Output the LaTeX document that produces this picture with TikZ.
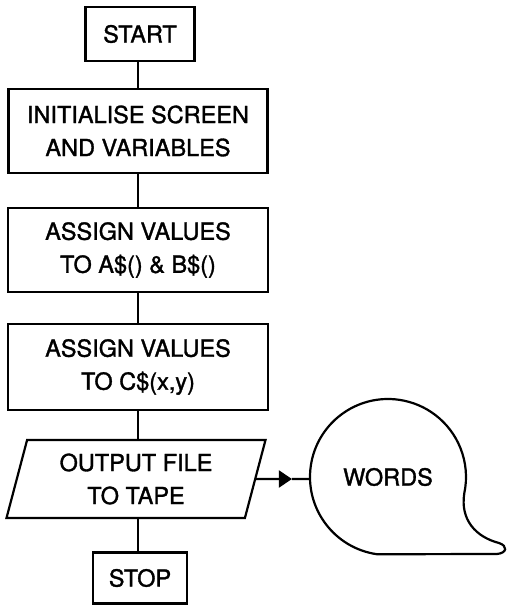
\documentclass[tikz,border=0pt]{standalone}
\usepackage{fontspec}
\setmainfont{TeX Gyre Heros}
\newfontfamily\chartfont[FakeBold=1.4]{TeX Gyre Heros}
\usetikzlibrary{shapes.geometric,arrows.meta,calc}
\begin{document}
\begin{tikzpicture}[x=1pt,y=1pt,
  line width=2.2pt,
  txt/.style={align=center, inner sep=0pt, outer sep=0pt,
    font=\chartfont\fontsize{23.5}{33}\selectfont},
  box/.style={txt, draw, rectangle},
  io/.style={txt, draw, trapezium, trapezium left angle=68,
    trapezium right angle=112, trapezium stretches body=true},
  link/.style={line width=2.2pt},
  tipstyle/.style={-{Triangle[length=13pt,width=17pt]}}
]
\useasboundingbox (0,0) rectangle (507,-606);

% process steps
\node[box, minimum width=109pt, minimum height=54pt] (start) at (140,-34) {START};
\node[box, minimum width=259pt, minimum height=84pt] (init) at (138,-131)
  {INITIALISE SCREEN\\AND VARIABLES};
\node[box, minimum width=260pt, minimum height=84pt] (assignA) at (138,-250)
  {ASSIGN VALUES\\TO A\$() \& B\$()};
\node[box, minimum width=260pt, minimum height=86pt] (assignC) at (138,-367)
  {ASSIGN VALUES\\TO C\$(x,y)};
\node[io, minimum width=259pt, minimum height=78pt] (out) at (136,-479)
  {OUTPUT FILE\\TO TAPE};
\node[box, minimum width=94pt, minimum height=51pt] (stop) at (140,-578) {STOP};

% speech bubble
\node[txt, circle, minimum size=156pt] (bubble) at (388,-477) {WORDS};
\draw (bubble.262) arc[start angle=262, end angle=-12, radius=78pt]
  .. controls (460,-520) and (476,-537) .. (499,-543)
  .. controls (508,-546) and (507,-553) .. (497,-554)
  -- cycle;

% vertical flow
\draw[link] (start.south -| init.north) -- (init.north);
\draw[link] (init.south) -- (assignA.north);
\draw[link] (assignA.south) -- (assignC.north);
\draw[link] (assignC.south) -- (assignC.south |- out.north);
\draw[link] (out.south -| assignC.south) -- (stop.north -| assignC.south);

% output to the bubble
\coordinate (tip) at ($(out.east)!0.67!(out.east -| bubble.west)$);
\draw[link, tipstyle] (out.east) -- (tip);
\draw[link] (tip) -- (out.east -| bubble.west);
\end{tikzpicture}
\end{document}
